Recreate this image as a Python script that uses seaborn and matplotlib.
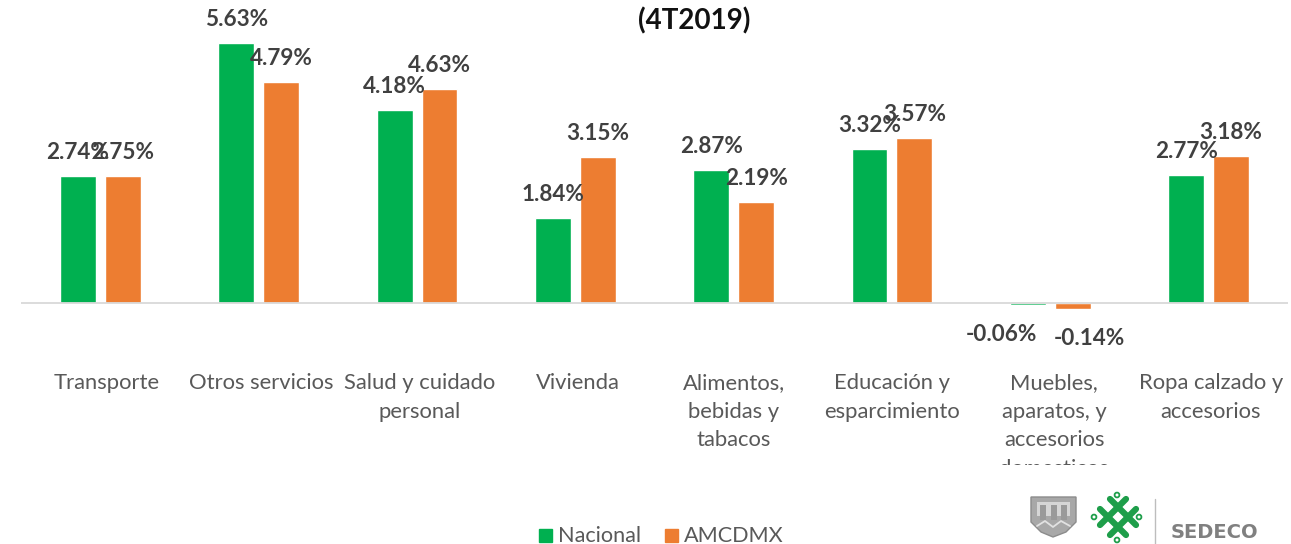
import matplotlib
matplotlib.use("Agg")
import matplotlib.pyplot as plt
from matplotlib.patches import Polygon, Circle
from matplotlib.transforms import ScaledTranslation
import seaborn as sns
import pandas as pd

categories = ["Transporte", "Otros servicios", "Salud y cuidado\npersonal", "Vivienda",
              "Alimentos,\nbebidas y\ntabacos", "Educación y\nesparcimiento",
              "Muebles,\naparatos, y\naccesorios\ndomesticos", "Ropa calzado y\naccesorios"]
nacional = [2.74, 5.63, 4.18, 1.84, 2.87, 3.32, -0.06, 2.77]
amcdmx = [2.75, 4.79, 4.63, 3.15, 2.19, 3.57, -0.14, 3.18]
series_names = ["Nacional", "AMCDMX"]
colors = ["#00B050", "#ED7D31"]
title = "(4T2019)"

W, H = 1291, 544
sns.set_theme(style="white")
plt.rcParams["font.family"] = ["Lato", "DejaVu Sans"]

df = pd.DataFrame({
    "cat": categories * 2,
    "val": nacional + amcdmx,
    "serie": [series_names[0]] * 8 + [series_names[1]] * 8,
})

fig = plt.figure(figsize=(W / 100, H / 100), dpi=100, facecolor="white")
ax = fig.add_axes([21.2 / W, 1 - 349.5 / H, (1288 - 21.4) / W, 350 / H])
ax.patch.set_alpha(0)
sns.barplot(data=df, x="cat", y="val", hue="serie", palette=colors, width=0.568, gap=0.2,
            hue_order=series_names, order=categories, legend=False, ax=ax, saturation=1)
ax.set_xlim(-0.5, 7.5)
ax.set_ylim(-47 / 46.1, 303 / 46.1)
ax.axhline(0, color="#D9D9D9", lw=1.3, zorder=1)
for s in ax.spines.values():
    s.set_visible(False)
ax.set_xlabel("")
ax.set_ylabel("")
ax.set_yticks([])
ax.tick_params(axis="x", length=0, pad=17)
ax.set_xticks(range(8))
ax.set_xticklabels(categories, fontsize=15.8, color="#595959", linespacing=1.53, va="top")
label_nudge_px = [6, 3, 2.5, 3, 0, 0, 4, 2]
for lab, nudge in zip(ax.get_xticklabels(), label_nudge_px):
    lab.set_transform(lab.get_transform() + ScaledTranslation(nudge / 100, 0, fig.dpi_scale_trans))

# value labels; shifts in pixels relative to the centred default
shifts = {(6, 0): (-26, 0), (6, 1): (17, 0)}
for si, container in enumerate(ax.containers):
    vals = nacional if si == 0 else amcdmx
    for i, bar in enumerate(container):
        v = vals[i]
        dx, dy = shifts.get((i, si), (0, 0))
        off = 23.5 if v >= 0 else -29.5
        ax.annotate(f"{v:.2f}%", (bar.get_x() + bar.get_width() / 2, v),
                    xytext=((dx) * 0.72, (off + dy) * 0.72), textcoords="offset points",
                    ha="center", va="center", fontsize=16.2, fontweight="bold", color="#404040",
                    annotation_clip=False)

fig.text(694.5 / W, 1 - 20.5 / H, title, ha="center", va="center", fontsize=20, fontweight="bold", color="#111111")

# logo overlay in pixel coordinates, hides the last line of the clipped label
lg = fig.add_axes([995 / W, 0, 270 / W, (H - 465) / H], zorder=5)
lg.set_xlim(995, 1265)
lg.set_ylim(H, 465)
lg.axis("off")
lg.add_patch(plt.Rectangle((995, 465), 270, 79, color="white", zorder=0))
lg.add_patch(Polygon([(1031, 497), (1076, 497), (1076, 522), (1066, 532), (1053, 537), (1041, 532), (1031, 522)],
                     fc="#A8A8A8", ec="#8C8C8C", lw=1))
lg.add_patch(plt.Rectangle((1037, 502), 33, 14, fc="#D6D6D6", ec="none"))
for k in [1043, 1053.5, 1064]:
    lg.add_patch(plt.Rectangle((k - 3, 505), 6, 15, fc="#9A9A9A", ec="none"))
lg.plot([1037, 1045, 1053, 1061, 1070], [526, 521, 527, 521, 526], color="#E2E2E2", lw=1.3)
g = "#1E9E4A"
for (a, b, c, d) in [(1100, 509, 1126, 535), (1110, 499, 1136, 525), (1136, 509, 1110, 535), (1126, 499, 1100, 525)]:
    lg.plot([a, c], [b, d], color=g, lw=4.5, solid_capstyle="round")
for cx, cy in [(1117, 495), (1094, 517), (1139, 517), (1117, 540)]:
    lg.add_patch(Circle((cx, cy), 2.4, fc="white", ec=g, lw=1.3))
lg.plot([1154.5, 1154.5], [499, 544], color="#BDBDBD", lw=1)
lg.text(1214.5, 532, "SEDECO", ha="center", va="center", fontsize=14, fontweight="bold",
        color="#808080", family="DejaVu Sans")

# legend
la = fig.add_axes([0, 0, 1, 1], zorder=4)
la.set_xlim(0, W)
la.set_ylim(H, 0)
la.axis("off")
for name, col, x0 in zip(series_names, colors, [539, 665]):
    la.add_patch(plt.Rectangle((x0, 529), 13, 13, color=col))
    la.text(x0 + 19, 536, name, ha="left", va="center", fontsize=15.6, color="#595959")

fig.savefig("out.png", dpi=100)
